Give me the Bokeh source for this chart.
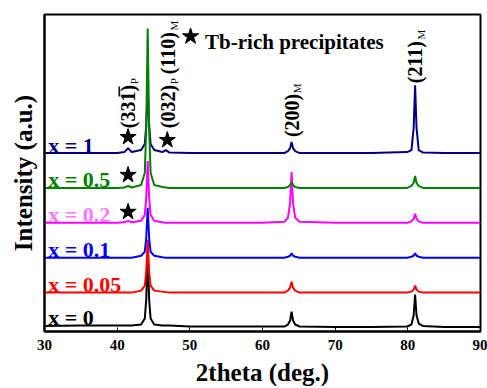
from bokeh.plotting import figure
from bokeh.models import Range1d, FixedTicker
from bokeh.core.properties import value
from bokeh.embed import file_html
from bokeh.resources import INLINE
import math

# ---- data ----
two_theta = [30, 35, 40, 41.0, 41.5, 42.0, 43.3, 43.8, 44.0, 44.2, 44.4, 44.6, 45.1,
             46.2, 46.7, 47.2, 50, 55, 60, 63.0, 63.5, 63.8, 64.0, 64.2, 64.5, 65.1,
             70, 75, 79.9, 80.5, 80.8, 81.0, 81.2, 81.5, 82.1, 85, 90]

int_x0 = [1.5, 2, 2, 2, 2, 2, 3, 9, 28, 75, 28, 9, 3, 2, 2, 2, 1, 1, 1, 1, 3, 7, 16, 7, 3, 1,
          0.5, 0.5, 1, 3, 12, 33, 12, 4, 1.5, 0.5, 0.5]
int_x005 = [0, 0, 0, 0, 0, 0, 2, 7, 21, 53, 21, 7, 2, 1, 0.5, 0, 0, 0, 0, 0, 2, 5, 11, 5, 2, 0,
            0, 0, 0, 1, 3, 7, 3, 1, 0, 0, 0]
int_x01 = [0, 0, 0, 0, 0, 0, 2, 6, 20, 50, 20, 6, 2, 0.5, 0, 0, 0, 0, 0, 0, 1, 2, 4.5, 2, 1, 0,
           0, 0, 0, 1, 2, 4.5, 2, 1, 0, 0, 0]
int_x02 = [0, 0, 0, 0.5, 2, 0.5, 2, 8, 25, 62, 25, 8, 2, 0.5, 0, 0, 0, 0, 0, 1, 5, 20, 51, 20, 5, 1,
           0, 0, 0, 1.5, 4, 9, 4, 1.5, 0, 0, 0]
int_x05 = [0, 0, 0, 0.5, 2, 0.5, 3, 15, 60, 160, 60, 15, 3, 1, 0.5, 0, 0, 0, 0, 0, 1, 3, 6, 3, 1, 0,
           0, 0, 0, 2, 5, 12, 5, 2, 0, 0, 0]
int_x1 = [0, 0, 0, 1, 5, 1, 3, 9, 28, 68, 28, 9, 3, 1, 3, 0.5, 0, 0, 0, 0, 2, 5, 11, 5, 2, 0,
          0, 0, 1, 3, 25, 68, 25, 3, 0.5, 0, 0]

series_labels = ["x = 0", "x = 0.05", "x = 0.1", "x = 0.2", "x = 0.5", "x = 1"]
series_values = [int_x0, int_x005, int_x01, int_x02, int_x05, int_x1]
offsets = [0, 35, 70, 105, 140, 175]
line_colors = ["#000000", "#ff0000", "#0000ff", "#ff00ff", "#008000", "#000080"]
label_colors = ["#000000", "#ff0000", "#0000ff", "#ff77ff", "#008000", "#000080"]
draw_order = [0, 1, 2, 3, 5, 4]

star_x = [41.5, 46.9, 41.5, 41.5]
star_y = [191, 188, 153, 116]

peak_names = ["(33" + "1\u0305" + ")", "(032)", "(110)", "(200)", "(211)"]
peak_subs = ["P", "P", "M", "M", "M"]
peak_x = [41.5, 47.05, 47.05, 64.0, 81.0]
peak_y = [200, 200, 254, 191, 245]

x_ticks = [30, 40, 50, 60, 70, 80, 90]

SERIF = "Liberation Serif"

p = figure(width=487, height=388, output_backend="svg", toolbar_location=None,
           x_range=Range1d(30, 90), y_range=Range1d(-4, 314),
           min_border_left=44, min_border_right=7, min_border_top=14, min_border_bottom=56)
p.background_fill_color = "white"
p.border_fill_color = "white"
p.outline_line_color = "black"
p.outline_line_width = 2
p.xgrid.visible = False
p.ygrid.visible = False

p.xaxis.ticker = FixedTicker(ticks=x_ticks)
p.xaxis.major_tick_in = 4
p.xaxis.major_tick_out = 0
p.xaxis.minor_tick_line_color = None
p.xaxis.major_label_text_font = SERIF
p.xaxis.major_label_text_font_style = "bold"
p.xaxis.major_label_text_font_size = "15px"
p.xaxis.major_label_text_color = "black"
p.xaxis.major_label_standoff = 8
p.xaxis.axis_label = "2theta (deg.)"
p.xaxis.axis_label_text_font = SERIF
p.xaxis.axis_label_text_font_style = "bold"
p.xaxis.axis_label_text_font_size = "25px"
p.xaxis.axis_label_text_color = "black"
p.xaxis.axis_label_standoff = 6
p.xaxis.axis_line_width = 2

p.yaxis.ticker = FixedTicker(ticks=[])
p.yaxis.major_tick_line_color = None
p.yaxis.minor_tick_line_color = None
p.yaxis.axis_label = "Intensity (a.u.)"
p.yaxis.axis_label_text_font = SERIF
p.yaxis.axis_label_text_font_style = "bold"
p.yaxis.axis_label_text_font_size = "25px"
p.yaxis.axis_label_text_color = "black"
p.yaxis.axis_label_standoff = 8
p.yaxis.axis_line_width = 2

for i in draw_order:
    ys = [v + offsets[i] for v in series_values[i]]
    p.line(two_theta, ys, line_color=line_colors[i], line_width=2)

for i, lab in enumerate(series_labels):
    p.text(x=[30.5], y=[offsets[i] + (10 if i == 0 else 8)], text=[lab],
           text_color=label_colors[i], text_font=value(SERIF), text_font_style="bold",
           text_font_size="22px", text_baseline="alphabetic", text_align="left")

p.scatter(star_x, star_y, marker="star", size=17, fill_color="black", line_color="black")

for name, sub, px, py in zip(peak_names, peak_subs, peak_x, peak_y):
    p.text(x=[px], y=[py], text=[name], angle=math.pi / 2, text_font=value(SERIF),
           text_font_style="bold", text_font_size="20px", text_color="black",
           text_align="left", text_baseline="middle")
    p.text(x=[px + 0.8], y=[py + 44], text=[sub], angle=math.pi / 2, text_font=value(SERIF),
           text_font_style="normal", text_font_size="11px", text_color="black",
           text_align="left", text_baseline="middle")

# legend-like annotation
p.scatter([50.1], [292], marker="star", size=17, fill_color="black", line_color="black")
p.text(x=[52.1], y=[286], text=["Tb-rich precipitates"], text_font=value(SERIF),
       text_font_style="bold", text_font_size="21px", text_color="black",
       text_align="left", text_baseline="alphabetic")

open("out.html", "w").write(file_html(p, INLINE))
